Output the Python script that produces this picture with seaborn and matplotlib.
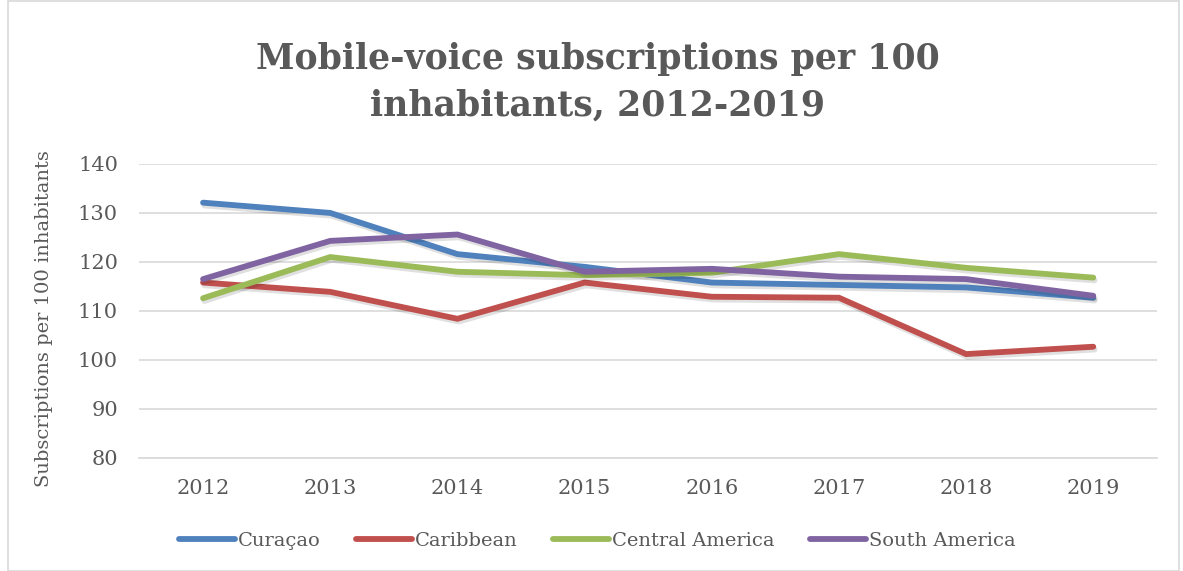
import pandas as pd
import matplotlib
matplotlib.use("Agg")
import matplotlib.pyplot as plt
import matplotlib.patheffects as pe
from matplotlib.patches import Rectangle
import seaborn as sns

# values
years = [2012, 2013, 2014, 2015, 2016, 2017, 2018, 2019]
curacao = [132.1, 130.0, 121.6, 119.0, 115.8, 115.3, 114.8, 112.7]
caribbean = [115.8, 113.9, 108.4, 115.8, 112.9, 112.7, 101.2, 102.7]
central_america = [112.6, 121.0, 118.0, 117.3, 117.8, 121.6, 118.8, 116.8]
south_america = [116.5, 124.3, 125.6, 118.0, 118.6, 117.0, 116.5, 113.1]

series = ["Curaçao", "Caribbean", "Central America", "South America"]
colors = ["#4F81BD", "#C0504D", "#9BBB59", "#8064A2"]

df = pd.DataFrame({
    "Year": years * 4,
    "Value": curacao + caribbean + central_america + south_america,
    "Series": [s for s in series for _ in years],
})

sns.set_style("white")
plt.rcParams["font.family"] = ["DejaVu Serif"]
txt = "#595959"

fig = plt.figure(figsize=(11.83, 5.71), dpi=100)
ax = fig.add_axes([0.1179, 0.1979, 0.860, 0.515])

sns.lineplot(data=df, x="Year", y="Value", hue="Series", hue_order=series,
             palette=colors, linewidth=4.2, ax=ax, legend=True)

for line in ax.get_lines():
    line.set_solid_capstyle("round")
    line.set_solid_joinstyle("miter")
    line.set_path_effects([pe.SimpleLineShadow(offset=(1, -2), alpha=0.12),
                           pe.Normal()])

ax.set_xlim(2011.5, 2019.5)
ax.set_ylim(80, 140)
ax.set_xticks(years)
ax.set_yticks(range(80, 141, 10))
ax.yaxis.grid(True, color="#d9d9d9", linewidth=1.2)
ax.set_axisbelow(True)
for s in ["top", "right", "left"]:
    ax.spines[s].set_visible(False)
ax.spines["bottom"].set_color("#d9d9d9")
ax.spines["bottom"].set_linewidth(1.2)
ax.tick_params(axis="both", length=0, labelsize=15, labelcolor=txt)
ax.tick_params(axis="y", pad=15.5)
ax.tick_params(axis="x", pad=15)
ax.set_xlabel("")
ax.set_ylabel("Subscriptions per 100 inhabitants", fontsize=14, color=txt)
ax.yaxis.set_label_coords(-0.085, 0.473)

ax.get_legend().remove()
handles, labels = ax.get_legend_handles_labels()
for h in handles:
    h.set_linewidth(4.2)
    h.set_solid_capstyle("round")
    h.set_path_effects([])
fig.legend(handles, labels, loc="center", bbox_to_anchor=(0.505, 1 - 541 / 571),
           ncol=4, frameon=False, fontsize=14, labelcolor=txt,
           handlelength=2.9, handletextpad=0.15, columnspacing=1.8)

fig.text(0.505, 1 - 82 / 571,
         "Mobile-voice subscriptions per 100\ninhabitants, 2012-2019",
         ha="center", va="center", fontsize=25, fontweight="bold", color=txt,
         linespacing=1.45)

fig.patches.append(Rectangle((0.007, 0.0), 0.99, 0.998, transform=fig.transFigure,
                             fill=False, edgecolor="#d9d9d9", linewidth=1.2))

fig.savefig("out.png", dpi=100)
